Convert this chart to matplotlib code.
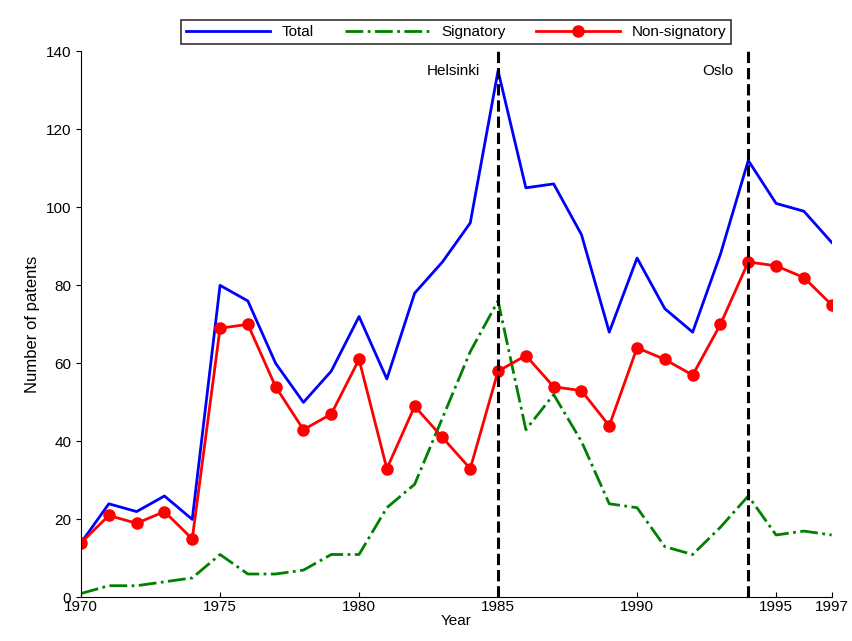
import matplotlib
matplotlib.use("Agg")
import matplotlib.pyplot as plt

plt.rcParams['font.family'] = ['Liberation Sans', 'DejaVu Sans']

years = list(range(1970, 1998))
total = [14, 24, 22, 26, 20, 80, 76, 60, 50, 58, 72, 56, 78, 86, 96, 135,
         105, 106, 93, 68, 87, 74, 68, 88, 112, 101, 99, 91]
signatory = [1, 3, 3, 4, 5, 11, 6, 6, 7, 11, 11, 23, 29, 46, 63, 76,
             43, 52, 40, 24, 23, 13, 11, 18, 26, 16, 17, 16]
non_signatory = [14, 21, 19, 22, 15, 69, 70, 54, 43, 47, 61, 33, 49, 41, 33, 58,
                 62, 54, 53, 44, 64, 61, 57, 70, 86, 85, 82, 75]
events = [(1985, "Helsinki"), (1994, "Oslo")]
xticks = [1970, 1975, 1980, 1985, 1990, 1995, 1997]

fig = plt.figure(figsize=(8.53, 6.41), dpi=100)
ax = fig.add_axes([0.095, 0.068, 0.88, 0.852])

ax.plot(years, total, color='#0000ff', lw=2, label='Total')
ax.plot(years, signatory, color='#008000', lw=2, ls='-.', label='Signatory')
ax.plot(years, non_signatory, color='#ff0000', lw=2, marker='o', ms=8, label='Non-signatory')

for yr, name in events:
    ax.axvline(yr, color='black', ls='--', lw=2.2)
ax.text(1983.4, 135, "Helsinki", ha='center', va='center', fontsize=11)
ax.text(1992.9, 135, "Oslo", ha='center', va='center', fontsize=11)

ax.set_xlim(1970, 1997)
ax.set_ylim(0, 140)
ax.set_xticks(xticks)
ax.set_yticks(range(0, 141, 20))
ax.tick_params(axis='x', direction='in', labelsize=11, pad=2)
ax.tick_params(axis='y', direction='out', labelsize=11)
ax.spines['top'].set_visible(False)
ax.spines['right'].set_visible(False)
ax.set_xlabel("Year", fontsize=11, labelpad=0)
ax.set_ylabel("Number of patents", fontsize=12)

leg = ax.legend(loc='lower center', bbox_to_anchor=(0.5, 1.0), ncol=3, fontsize=11,
                fancybox=False, edgecolor='black', handlelength=5.5, borderpad=0.3,
                columnspacing=2.0)
leg.get_frame().set_linewidth(1.2)

plt.savefig("out.png", dpi=100)
